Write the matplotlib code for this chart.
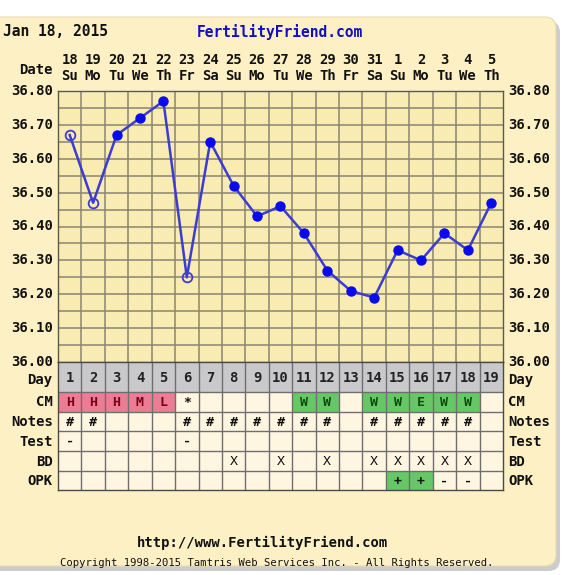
import matplotlib
matplotlib.use("Agg")
import matplotlib.pyplot as plt
from matplotlib.patches import FancyBboxPatch, Rectangle
import numpy as np

# ---- data ----
dates = ['18', '19', '20', '21', '22', '23', '24', '25', '26', '27', '28', '29', '30', '31',
         '1', '2', '3', '4', '5']
dows = ['Su', 'Mo', 'Tu', 'We', 'Th', 'Fr', 'Sa', 'Su', 'Mo', 'Tu', 'We', 'Th', 'Fr', 'Sa',
        'Su', 'Mo', 'Tu', 'We', 'Th']
cycle_days = list(range(1, 20))
temps = [36.67, 36.47, 36.67, 36.72, 36.77, 36.25, 36.65, 36.52, 36.43, 36.46,
         36.38, 36.27, 36.21, 36.19, 36.33, 36.30, 36.38, 36.33, 36.47]
open_pts = [1, 1, 0, 0, 0, 1, 0, 0, 0, 0, 0, 0, 0, 0, 0, 0, 0, 0, 0]
ytick_vals = [36.00, 36.10, 36.20, 36.30, 36.40, 36.50, 36.60, 36.70, 36.80]
row_labels = ['Day', 'CM', 'Notes', 'Test', 'BD', 'OPK']
cm = ['H', 'H', 'H', 'M', 'L', '*', '', '', '', '', 'W', 'W', '', 'W', 'W', 'E', 'W', 'W', '']
notes = ['#', '#', '', '', '', '#', '#', '#', '#', '#', '#', '#', '', '#', '#', '#', '#', '#', '']
test = ['-', '', '', '', '', '-', '', '', '', '', '', '', '', '', '', '', '', '', '']
bd = ['', '', '', '', '', '', '', 'X', '', 'X', '', 'X', '', 'X', 'X', 'X', 'X', 'X', '']
opk = ['', '', '', '', '', '', '', '', '', '', '', '', '', '', '+', '+', '-', '-', '']

W, H = 563, 575
fig = plt.figure(figsize=(W / 100, H / 100), dpi=100)
fig.patch.set_facecolor('white')

FONT = 'DejaVu Sans Mono'
CREAM = '#fdf0c4'
PLOT_BG = '#f8ecb2'
CELL_BG = '#fff6e2'
GRID = '#8a8470'
PINK = '#ec7c93'
GREEN = '#66c766'
GRAY = '#c9c9cb'


def fx(px):
    return px / W


def fy(py):
    return 1 - py / H


# background rounded panel with shadow
shadow = FancyBboxPatch((fx(-20), fy(571)), fx(580), fy(21) - fy(571),
                        boxstyle="round,pad=0,rounding_size=0.02",
                        transform=fig.transFigure, facecolor='#9a9a9a', edgecolor='none',
                        alpha=0.5, zorder=-20)
fig.patches.append(shadow)
panel = FancyBboxPatch((fx(-20), fy(566)), fx(576), fy(17) - fy(566),
                       boxstyle="round,pad=0,rounding_size=0.02",
                       transform=fig.transFigure, facecolor=CREAM, edgecolor='#e8dcb0',
                       linewidth=0.8, zorder=-10)
fig.patches.append(panel)

L, R = 58, 503
TOP, MID, BOT = 91, 362, 490

# ---- temperature axes ----
ax = fig.add_axes([fx(L), fy(MID), fx(R - L), fy(TOP) - fy(MID)])
ax.set_zorder(1)
ax.set_facecolor(PLOT_BG)
ax.set_xlim(0.5, 19.5)
ax.set_ylim(36.0, 36.8)
for v in np.arange(36.05, 36.8, 0.05):
    ax.axhline(v, color=GRID, lw=1.1, zorder=1)
for d in cycle_days[:-1]:
    ax.axvline(d + 0.5, color=GRID, lw=1.1, zorder=1)
for s in ax.spines.values():
    s.set_color('#5a5a50')
    s.set_linewidth(1.0)
ax.set_xticks([])
ax.set_yticks([])
ax.plot(cycle_days, temps, color='#3c3cd0', lw=1.8, zorder=3)
filled_x = [d for d, o in zip(cycle_days, open_pts) if not o]
filled_y = [t for t, o in zip(temps, open_pts) if not o]
open_x = [d for d, o in zip(cycle_days, open_pts) if o]
open_y = [t for t, o in zip(temps, open_pts) if o]
ax.plot(filled_x, filled_y, 'o', color='#0a0af0', ms=6.5, zorder=4)
ax.plot(open_x, open_y, 'o', mfc='none', mec='#3c3cd0', mew=1.3, ms=7, zorder=4)

ytr_l = ax.get_yaxis_transform()
for v in ytick_vals:
    ax.text(-0.012, v, f'{v:.2f}', transform=ytr_l, ha='right', va='center',
            family=FONT, fontweight='bold', fontsize=10, color='#111111', clip_on=False)
    ax.text(1.012, v, f'{v:.2f}', transform=ytr_l, ha='left', va='center',
            family=FONT, fontweight='bold', fontsize=10, color='#111111', clip_on=False)

# date header
xtr = ax.get_xaxis_transform()
for d, ds, dw in zip(cycle_days, dates, dows):
    ax.text(d, 1.0 + 31 / 271, ds, transform=xtr, ha='center', va='center',
            family=FONT, fontweight='bold', fontsize=10, color='#111111', clip_on=False)
    ax.text(d, 1.0 + 15 / 271, dw, transform=xtr, ha='center', va='center',
            family=FONT, fontweight='bold', fontsize=10, color='#111111', clip_on=False)
fig.text(fx(53), fy(70), 'Date', ha='right', va='center', family=FONT,
         fontweight='bold', fontsize=10, color='#111111')

# ---- table axes ----
tb = fig.add_axes([fx(L), fy(BOT), fx(R - L), fy(MID) - fy(BOT)])
tb.set_zorder(1)
tb.set_xlim(0.5, 19.5)
row_edges = [0, 30, 50, 69, 89, 109, 128]
tb.set_ylim(128, 0)
tb.set_facecolor(CELL_BG)
tb.set_xticks([])
tb.set_yticks([])
for s in tb.spines.values():
    s.set_color('#4a4a4a')
    s.set_linewidth(1.0)

tb.add_patch(Rectangle((0.5, 0), 19, row_edges[1], facecolor=GRAY, edgecolor='none', zorder=0.5))
cm_color = {'H': PINK, 'M': PINK, 'L': PINK, 'W': GREEN, 'E': GREEN}
cm_text = {'H': '#7a0018', 'M': '#7a0018', 'L': '#7a0018', 'W': '#0d4d0d', 'E': '#0d4d0d'}
for d, c in zip(cycle_days, cm):
    if c in cm_color:
        tb.add_patch(Rectangle((d - 0.5, row_edges[1]), 1, row_edges[2] - row_edges[1],
                               facecolor=cm_color[c], edgecolor='none', zorder=0.5))
for d, o in zip(cycle_days, opk):
    if o == '+':
        tb.add_patch(Rectangle((d - 0.5, row_edges[5]), 1, row_edges[6] - row_edges[5],
                               facecolor=GREEN, edgecolor='none', zorder=0.5))

for d in cycle_days[:-1]:
    tb.axvline(d + 0.5, color='#6e6e6e', lw=1.0, zorder=1)
for e in row_edges[1:-1]:
    tb.axhline(e, color='#6e6e6e', lw=1.0, zorder=1)


def mid(i):
    return (row_edges[i] + row_edges[i + 1]) / 2


for d in cycle_days:
    tb.text(d, mid(0) + 1, str(d), ha='center', va='center', family=FONT,
            fontweight='bold', fontsize=10, color='#222222')
for i, vals in enumerate([cm, notes, test, bd, opk], start=1):
    for d, v in zip(cycle_days, vals):
        if not v:
            continue
        col = '#111111'
        fw = 'bold'
        if i == 1 and v in cm_text:
            col = cm_text[v]
        if i == 4:
            fw = 'normal'
        tb.text(d, mid(i) + 0.5, v, ha='center', va='center', family=FONT,
                fontweight=fw, fontsize=9.5, color=col)

ytr_t = tb.get_yaxis_transform()
for i, lab in enumerate(row_labels):
    yy = mid(i) + (3 if i == 0 else 0.5)
    tb.text(-0.012, yy, lab, transform=ytr_t, ha='right', va='center', family=FONT,
            fontweight='bold', fontsize=10, color='#111111', clip_on=False)
    tb.text(1.012, yy, lab, transform=ytr_t, ha='left', va='center', family=FONT,
            fontweight='bold', fontsize=10, color='#111111', clip_on=False)

# ---- titles and footer ----
fig.text(fx(3), fy(32), 'Jan 18, 2015', ha='left', va='center', family=FONT,
         fontweight='bold', fontsize=10.5, color='#111111')
fig.text(fx(280), fy(32), 'FertilityFriend.com', ha='center', va='center', family=FONT,
         fontweight='bold', fontsize=10.5, color='#1010c0')
fig.text(fx(262), fy(543), 'http://www.FertilityFriend.com', ha='center', va='center',
         family=FONT, fontweight='bold', fontsize=10, color='#111111')
fig.text(fx(277), fy(563), 'Copyright 1998-2015 Tamtris Web Services Inc. - All Rights Reserved.',
         ha='center', va='center', family=FONT, fontsize=7.6, color='#111111')

fig.savefig('out.png', dpi=100, facecolor=fig.get_facecolor())
